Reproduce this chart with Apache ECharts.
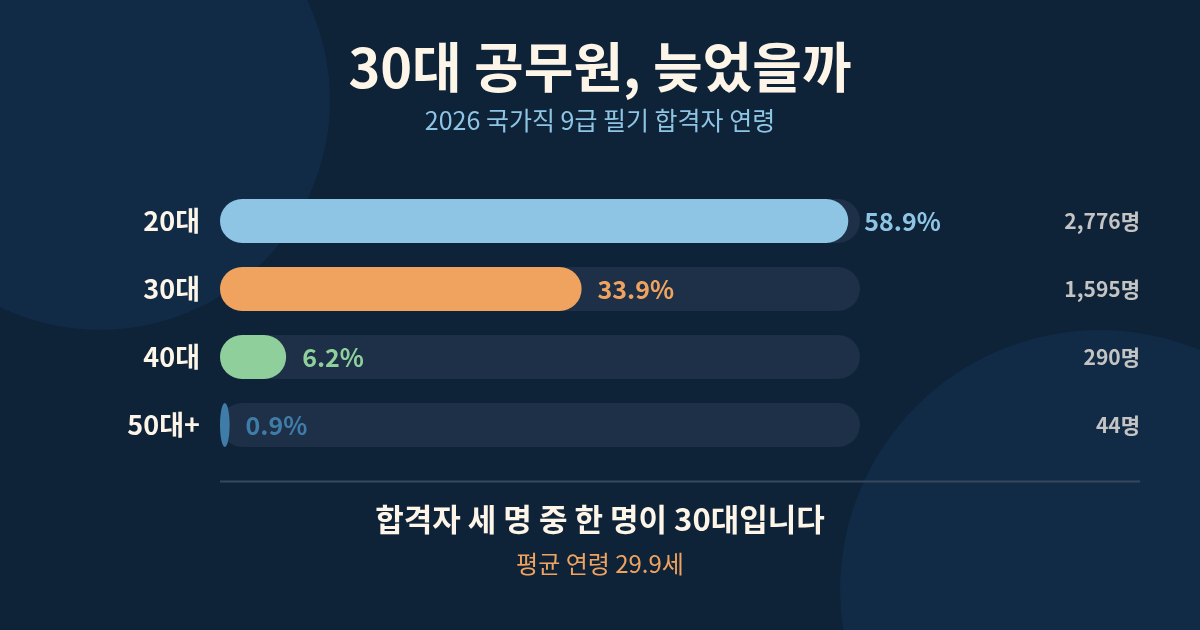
<!DOCTYPE html>
<html>
<head>
<meta charset="utf-8">
<script src="https://cdn.jsdelivr.net/npm/echarts@6/dist/echarts.min.js"></script>
<style>
  html, body { margin: 0; padding: 0; background: #0e2238; }
  #chart { width: 1200px; height: 630px; }
</style>
</head>
<body>
<div id="chart"></div>
<script>
// 데이터
const categories = ['20대', '30대', '40대', '50대+']
const shares = [58.9, 33.9, 6.2, 0.9]
const counts = [2776, 1595, 290, 44]
const barColors = ['#8ec5e5', '#f0a35e', '#8fcf9c', '#3f7ca8']

const FONT = '"Noto Sans CJK KR", "Noto Sans", sans-serif'
const AXIS_MAX = 60
const BAR_H = 44

const chart = echarts.init(document.getElementById('chart'), null, { renderer: 'canvas' })

// 트랙 + 막대 + 퍼센트 라벨 (가는 막대는 타원으로)
function renderBar(params, api) {
  const i = api.value(1)
  const v = api.value(0)
  const start = api.coord([0, i])
  const end = api.coord([v, i])
  const trackEnd = api.coord([AXIS_MAX, i])
  const y = start[1] - BAR_H / 2
  const w = end[0] - start[0]
  const color = barColors[i]
  const bar = w < BAR_H
    ? { type: 'ellipse', shape: { cx: start[0] + w / 2, cy: start[1], rx: w / 2, ry: BAR_H / 2 }, style: { fill: color } }
    : { type: 'rect', shape: { x: start[0], y, width: w, height: BAR_H, r: BAR_H / 2 }, style: { fill: color } }
  return {
    type: 'group',
    children: [
      { type: 'rect', shape: { x: start[0], y, width: trackEnd[0] - start[0], height: BAR_H, r: BAR_H / 2 }, style: { fill: '#1e3048' } },
      bar,
      {
        type: 'text',
        style: {
          x: end[0] + 16, y: start[1], text: v + '%',
          fill: color, font: 'bold 25px ' + FONT,
          textAlign: 'left', textVerticalAlign: 'middle',
        },
      },
    ],
  }
}

const option = {
  backgroundColor: '#0e2238',
  animation: false,
  title: [
    {
      text: '30대 공무원, 늦었을까',
      left: 'center', top: 35,
      textStyle: { color: '#fdf5e8', fontSize: 54, fontWeight: 'bold', fontFamily: FONT },
    },
    {
      text: '2026 국가직 9급 필기 합격자 연령',
      left: 'center', top: 103,
      textStyle: { color: '#8ec5e5', fontSize: 25, fontWeight: 'normal', fontFamily: FONT },
    },
    {
      text: '합격자 세 명 중 한 명이 30대입니다',
      left: 'center', top: 499,
      textStyle: { color: '#fdf5e8', fontSize: 31, fontWeight: 'bold', fontFamily: FONT },
    },
    {
      text: '평균 연령 29.9세',
      left: 'center', top: 547,
      textStyle: { color: '#f0a35e', fontSize: 24, fontWeight: 'normal', fontFamily: FONT },
    },
  ],
  // 배경 장식 원 + 구분선
  graphic: [
    { type: 'circle', z: -10, shape: { cx: 100, cy: 100, r: 230 }, style: { fill: '#112a45' } },
    { type: 'circle', z: -10, shape: { cx: 1100, cy: 590, r: 260 }, style: { fill: '#112a45' } },
    { type: 'line', shape: { x1: 220, y1: 481.5, x2: 1140, y2: 481.5 }, style: { stroke: '#34495f', lineWidth: 2 } },
  ],
  grid: { left: 220, right: 340, top: 187, height: 272 },
  xAxis: { type: 'value', min: 0, max: AXIS_MAX, show: false },
  yAxis: [
    {
      type: 'category', data: categories, inverse: true,
      axisLine: { show: false }, axisTick: { show: false },
      axisLabel: { color: '#fdf5e8', fontSize: 27, fontWeight: 'bold', fontFamily: FONT, margin: 20 },
    },
    {
      type: 'category', data: counts.map(c => c.toLocaleString('en-US') + '명'), inverse: true,
      position: 'right', offset: 280,
      axisLine: { show: false }, axisTick: { show: false },
      axisLabel: { color: '#c4c4c4', fontSize: 21, fontWeight: 'bold', fontFamily: FONT, align: 'right', margin: 0 },
    },
  ],
  series: [
    {
      type: 'custom',
      renderItem: renderBar,
      data: shares.map((v, i) => [v, i]),
      encode: { x: 0, y: 1 },
    },
  ],
}

chart.setOption(option)
window.addEventListener('resize', () => chart.resize())
</script>
</body>
</html>
